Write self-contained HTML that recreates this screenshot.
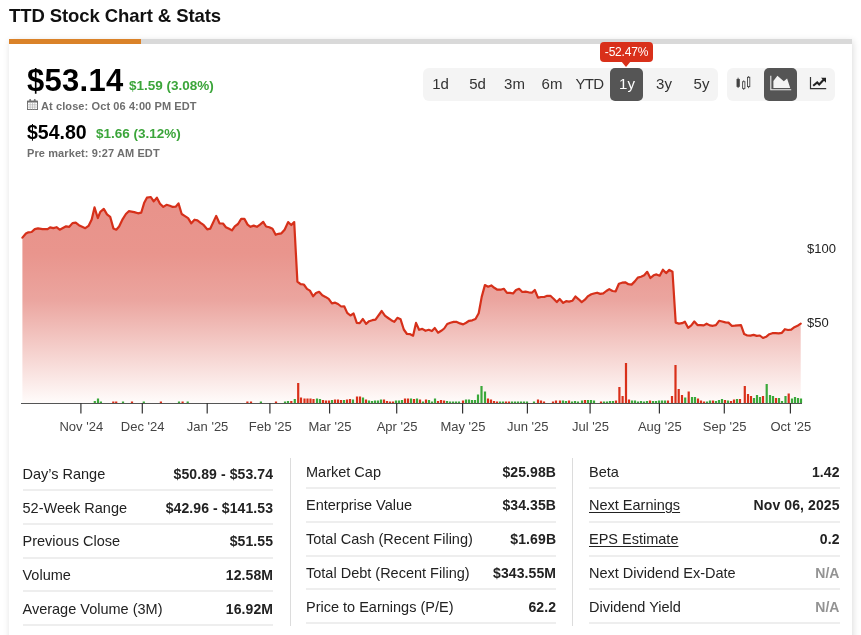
<!DOCTYPE html>
<html lang="en">
<head>
<meta charset="utf-8">
<title>TTD Stock Chart &amp; Stats</title>
<style>
*{box-sizing:border-box;margin:0;padding:0}
html,body{width:861px;height:635px;overflow:hidden;background:#fff}
body{font-family:"Liberation Sans",sans-serif;color:#222;position:relative}
.abs{position:absolute;white-space:nowrap}
h1{position:absolute;left:9px;top:5px;font-size:18.5px;line-height:22px;font-weight:700;color:#111;letter-spacing:-0.08px;white-space:nowrap}
.card{position:absolute;left:9px;top:39px;width:843px;height:620px;background:#fff;box-shadow:1px 2px 7px rgba(0,0,0,.14)}
.bar{position:absolute;left:0;top:0;width:843px;height:5px;background:#d9d9d9}
.bar i{position:absolute;left:0;top:0;width:132px;height:5px;background:#da8229}
.p1{left:27px;top:62.5px;font-size:31px;line-height:36px;font-weight:700;color:#000;letter-spacing:0.3px}
.g1{left:129px;top:78px;font-size:13.5px;line-height:16px;font-weight:700;color:#3ba53a;letter-spacing:0}
.s1{left:41px;top:99.5px;font-size:11px;line-height:13px;font-weight:700;color:#6e6e6e;letter-spacing:0.1px}
.p2{left:27px;top:119.5px;font-size:19.5px;line-height:24px;font-weight:700;color:#000;letter-spacing:0}
.g2{left:96px;top:126px;font-size:13.5px;line-height:16px;font-weight:700;color:#3ba53a;letter-spacing:0}
.s2{left:27px;top:146.5px;font-size:11px;line-height:13px;font-weight:700;color:#6e6e6e;letter-spacing:0.1px}
.grp{position:absolute;top:68px;height:33px;background:#f4f4f4;border-radius:6px}
.btn{position:absolute;top:68px;height:33px;line-height:31px;text-align:center;font-size:15px;color:#333;white-space:nowrap}
.act{position:absolute;top:68px;height:33px;background:#555;border-radius:5px}
.tip{position:absolute;left:600px;top:42px;width:53px;height:20px;background:#d9301a;border-radius:4px;color:#fff;font-size:12px;line-height:20px;text-align:center;letter-spacing:-0.2px}
.tip:after{content:"";position:absolute;left:21px;top:19px;border:5px solid transparent;border-top:6px solid #d9301a;border-bottom:0}
.col{position:absolute;width:251px}
.lb{position:absolute;left:0;white-space:nowrap;font-size:14.5px;line-height:18px;color:#222}
.vl{position:absolute;right:0;white-space:nowrap;font-size:14px;line-height:18px;font-weight:700;color:#222;letter-spacing:0.1px;margin-right:-0.1px}
.vl.na{color:#939393}
.ln{position:absolute;left:0;width:100%;height:2px;background:#eee}
.col u{text-decoration:underline;text-underline-offset:1.5px}
.vd{position:absolute;width:1px;top:458px;height:168px;background:#dcdcdc}
</style>
</head>
<body>
<div class="card"><div class="bar"><i></i></div></div>
<h1>TTD Stock Chart &amp; Stats</h1>

<div class="abs p1">$53.14</div>
<div class="abs g1">$1.59 (3.08%)</div>
<svg class="abs" style="left:27px;top:99px" width="11" height="11" viewBox="0 0 11 11"><rect x="0.5" y="2.2" width="10" height="8.3" fill="none" stroke="#707070" stroke-width="1"/><rect x="0.5" y="1.8" width="10" height="1.7" fill="#6a6a6a"/><rect x="2.2" y="0.1" width="1.9" height="2.4" rx="0.8" fill="#777"/><rect x="6.8" y="0.1" width="1.9" height="2.4" rx="0.8" fill="#777"/><path d="M3.2 3.5v7M5.5 3.5v7M7.8 3.5v7M0.5 5.8h10M0.5 8.1h10" stroke="#b5b5b5" stroke-width="0.7" fill="none"/></svg>
<div class="abs s1">At close: Oct 06 4:00 PM EDT</div>
<div class="abs p2">$54.80</div>
<div class="abs g2">$1.66 (3.12%)</div>
<div class="abs s2">Pre market: 9:27 AM EDT</div>

<div class="grp" style="left:423px;width:295px"></div>
<div class="grp" style="left:727px;width:108px"></div>
<div class="act" style="left:610px;width:32.5px"></div>
<div class="act" style="left:764px;width:33px"></div>
<div class="btn" style="left:422px;width:37px">1d</div>
<div class="btn" style="left:459px;width:37px">5d</div>
<div class="btn" style="left:496px;width:37px">3m</div>
<div class="btn" style="left:533.5px;width:37px">6m</div>
<div class="btn" style="left:571px;width:37px;letter-spacing:-0.6px">YTD</div>
<div class="btn" style="left:608.5px;width:37px;color:#fff">1y</div>
<div class="btn" style="left:645.5px;width:37px">3y</div>
<div class="btn" style="left:683px;width:37px">5y</div>
<div class="tip">-52.47%</div>
<svg class="abs" style="left:727px;top:68px" width="108" height="33" viewBox="727 68 108 33">
<g stroke="#444" stroke-width="0.9" fill="none">
<path d="M738.1 77.7V88" /><rect x="737" y="79.4" width="2.3" height="7" fill="#444"/>
<path d="M743.7 80.4V81.7M743.7 88.4V89.9"/><rect x="742.6" y="81.7" width="2.3" height="6.7" fill="#f4f4f4"/>
<path d="M748.6 76.1V77.3M748.6 86.6V88.2"/><rect x="747.5" y="77.3" width="2.3" height="9.3" fill="#f4f4f4"/>
</g>
<path d="M770.8 75.7V89.7H791.2" stroke="#f0f0f0" stroke-width="1.1" fill="none"/>
<path d="M773.4 88V81L777.4 75.7L783.8 81.3L787.1 78.6L790.2 88Z" fill="#f4f4f4"/>
<path d="M810.5 77V88.6H826.2" stroke="#333" stroke-width="1.2" fill="none"/>
<path d="M813.2 85.7L817.2 82.4L819.2 84.4L823.6 79.8" stroke="#222" stroke-width="2.1" fill="none" stroke-linejoin="miter"/>
<path d="M821 77.8H826V82.8Z" fill="#222"/>
</svg>

<!--CS--><svg class="abs" style="left:0;top:170px" width="861" height="280" viewBox="0 170 861 280">
<defs><linearGradient id="ag" gradientUnits="userSpaceOnUse" x1="0" y1="190" x2="0" y2="403"><stop offset="0" stop-color="#e8928a"/><stop offset="0.3" stop-color="#e9958d"/><stop offset="0.516" stop-color="#eba59f"/><stop offset="1" stop-color="#fffcfb"/></linearGradient></defs>
<path d="M22.4 237.6 L25.9 233.5 L28.4 232.3 L31.6 232.0 L34.8 229.1 L38.0 228.4 L42.5 229.1 L47.6 229.1 L50.1 227.4 L53.3 228.1 L56.5 227.2 L59.7 229.7 L66.1 226.3 L69.3 226.8 L72.5 223.1 L75.7 222.7 L78.9 225.2 L85.3 228.2 L88.5 225.9 L91.7 219.5 L94.5 207.4 L97.8 218.0 L100.3 211.8 L103.8 208.9 L107.0 214.4 L110.2 216.9 L113.4 228.4 L116.3 229.7 L119.1 226.5 L122.7 219.1 L125.9 214.0 L128.8 211.2 L134.2 212.1 L138.0 213.3 L141.2 212.7 L144.1 203.1 L146.9 197.7 L150.8 197.0 L153.7 201.4 L156.9 197.7 L160.0 203.7 L163.3 206.9 L166.5 204.8 L169.9 205.7 L172.7 206.9 L175.7 206.7 L178.5 203.4 L181.7 214.0 L184.6 215.9 L188.1 218.1 L191.3 223.3 L194.5 219.7 L197.4 220.4 L200.6 222.9 L203.8 225.2 L207.2 229.3 L210.2 228.7 L216.2 215.9 L219.5 223.3 L223.0 223.5 L225.9 227.2 L229.1 228.8 L232.0 230.4 L234.8 226.3 L238.0 224.0 L241.2 218.9 L244.4 218.9 L247.6 224.6 L250.5 226.8 L253.7 225.6 L256.9 226.8 L260.0 224.6 L263.2 221.8 L266.1 226.5 L269.3 227.2 L272.5 228.8 L275.7 234.8 L278.5 233.8 L281.4 233.3 L284.6 229.7 L288.1 222.1 L291.3 225.0 L294.2 222.1 L297.4 281.6 L300.6 284.2 L303.8 284.5 L307.0 288.9 L309.9 290.6 L313.1 296.3 L316.0 293.1 L319.1 291.8 L322.3 295.3 L325.5 296.9 L328.7 298.9 L331.9 303.3 L335.2 302.7 L338.0 304.0 L341.2 306.5 L344.2 306.3 L347.2 312.9 L350.4 315.5 L353.6 313.5 L356.8 322.9 L359.7 323.1 L362.9 319.0 L366.1 323.8 L369.1 321.2 L372.3 320.2 L375.5 319.7 L381.7 311.0 L384.9 315.7 L388.1 318.0 L391.3 320.2 L394.3 321.9 L397.4 317.8 L400.6 319.3 L403.8 329.5 L407.0 334.0 L410.2 334.2 L413.1 335.7 L416.0 322.9 L419.1 329.8 L422.3 328.9 L425.5 330.8 L428.7 329.8 L431.9 331.1 L434.8 328.0 L438.0 332.7 L441.2 330.8 L444.2 328.5 L447.2 324.0 L450.4 322.7 L453.6 321.9 L456.8 321.9 L460.0 323.4 L463.2 324.4 L466.1 322.7 L469.1 320.8 L472.3 320.3 L475.5 319.0 L478.7 313.3 L481.7 296.9 L484.9 285.1 L488.1 286.7 L491.3 285.4 L494.3 287.8 L497.4 289.7 L500.6 289.7 L503.8 288.8 L507.0 292.9 L510.2 292.9 L513.1 293.5 L516.0 290.0 L519.1 288.8 L522.3 292.0 L525.5 291.6 L528.7 292.3 L531.9 292.7 L534.8 290.0 L538.0 297.6 L541.2 297.0 L544.2 297.0 L547.2 295.8 L550.4 295.8 L553.6 298.7 L556.8 302.1 L559.7 299.0 L563.2 302.9 L566.1 301.2 L569.1 301.6 L572.3 300.8 L575.5 296.5 L578.7 299.3 L581.7 302.1 L584.9 299.7 L588.1 296.1 L591.3 294.2 L593.9 293.5 L597.1 292.7 L600.3 293.9 L603.3 293.3 L606.3 291.0 L609.3 289.1 L612.5 291.0 L615.7 291.3 L618.9 283.7 L622.1 282.7 L625.2 282.3 L628.4 284.2 L631.6 284.6 L634.8 281.4 L637.8 277.6 L641.0 276.7 L644.2 275.3 L647.2 271.8 L650.4 278.0 L653.6 275.3 L656.5 274.4 L659.7 275.7 L662.9 269.7 L666.1 273.1 L669.3 269.9 L672.5 271.8 L675.7 322.6 L678.9 323.6 L682.1 323.2 L684.9 321.7 L688.1 327.8 L691.3 325.4 L694.3 321.5 L697.5 325.1 L700.6 325.1 L703.8 325.4 L706.6 323.7 L709.8 325.4 L712.9 325.8 L715.9 325.1 L719.1 320.8 L722.2 321.5 L725.4 322.4 L728.5 322.6 L731.7 325.8 L734.8 325.7 L738.0 325.4 L741.0 325.1 L744.2 334.1 L747.3 335.5 L750.5 335.6 L753.6 334.9 L756.8 335.9 L759.8 335.5 L763.0 338.0 L766.1 336.8 L769.3 334.2 L772.4 333.2 L775.6 333.2 L778.7 333.4 L781.9 332.8 L784.9 329.2 L788.1 330.0 L791.2 329.6 L794.4 327.2 L797.5 325.8 L800.7 323.7 L800.7 403 L22.4 403 Z" fill="url(#ag)"/>
<path d="M22.4 237.6 L25.9 233.5 L28.4 232.3 L31.6 232.0 L34.8 229.1 L38.0 228.4 L42.5 229.1 L47.6 229.1 L50.1 227.4 L53.3 228.1 L56.5 227.2 L59.7 229.7 L66.1 226.3 L69.3 226.8 L72.5 223.1 L75.7 222.7 L78.9 225.2 L85.3 228.2 L88.5 225.9 L91.7 219.5 L94.5 207.4 L97.8 218.0 L100.3 211.8 L103.8 208.9 L107.0 214.4 L110.2 216.9 L113.4 228.4 L116.3 229.7 L119.1 226.5 L122.7 219.1 L125.9 214.0 L128.8 211.2 L134.2 212.1 L138.0 213.3 L141.2 212.7 L144.1 203.1 L146.9 197.7 L150.8 197.0 L153.7 201.4 L156.9 197.7 L160.0 203.7 L163.3 206.9 L166.5 204.8 L169.9 205.7 L172.7 206.9 L175.7 206.7 L178.5 203.4 L181.7 214.0 L184.6 215.9 L188.1 218.1 L191.3 223.3 L194.5 219.7 L197.4 220.4 L200.6 222.9 L203.8 225.2 L207.2 229.3 L210.2 228.7 L216.2 215.9 L219.5 223.3 L223.0 223.5 L225.9 227.2 L229.1 228.8 L232.0 230.4 L234.8 226.3 L238.0 224.0 L241.2 218.9 L244.4 218.9 L247.6 224.6 L250.5 226.8 L253.7 225.6 L256.9 226.8 L260.0 224.6 L263.2 221.8 L266.1 226.5 L269.3 227.2 L272.5 228.8 L275.7 234.8 L278.5 233.8 L281.4 233.3 L284.6 229.7 L288.1 222.1 L291.3 225.0 L294.2 222.1 L297.4 281.6 L300.6 284.2 L303.8 284.5 L307.0 288.9 L309.9 290.6 L313.1 296.3 L316.0 293.1 L319.1 291.8 L322.3 295.3 L325.5 296.9 L328.7 298.9 L331.9 303.3 L335.2 302.7 L338.0 304.0 L341.2 306.5 L344.2 306.3 L347.2 312.9 L350.4 315.5 L353.6 313.5 L356.8 322.9 L359.7 323.1 L362.9 319.0 L366.1 323.8 L369.1 321.2 L372.3 320.2 L375.5 319.7 L381.7 311.0 L384.9 315.7 L388.1 318.0 L391.3 320.2 L394.3 321.9 L397.4 317.8 L400.6 319.3 L403.8 329.5 L407.0 334.0 L410.2 334.2 L413.1 335.7 L416.0 322.9 L419.1 329.8 L422.3 328.9 L425.5 330.8 L428.7 329.8 L431.9 331.1 L434.8 328.0 L438.0 332.7 L441.2 330.8 L444.2 328.5 L447.2 324.0 L450.4 322.7 L453.6 321.9 L456.8 321.9 L460.0 323.4 L463.2 324.4 L466.1 322.7 L469.1 320.8 L472.3 320.3 L475.5 319.0 L478.7 313.3 L481.7 296.9 L484.9 285.1 L488.1 286.7 L491.3 285.4 L494.3 287.8 L497.4 289.7 L500.6 289.7 L503.8 288.8 L507.0 292.9 L510.2 292.9 L513.1 293.5 L516.0 290.0 L519.1 288.8 L522.3 292.0 L525.5 291.6 L528.7 292.3 L531.9 292.7 L534.8 290.0 L538.0 297.6 L541.2 297.0 L544.2 297.0 L547.2 295.8 L550.4 295.8 L553.6 298.7 L556.8 302.1 L559.7 299.0 L563.2 302.9 L566.1 301.2 L569.1 301.6 L572.3 300.8 L575.5 296.5 L578.7 299.3 L581.7 302.1 L584.9 299.7 L588.1 296.1 L591.3 294.2 L593.9 293.5 L597.1 292.7 L600.3 293.9 L603.3 293.3 L606.3 291.0 L609.3 289.1 L612.5 291.0 L615.7 291.3 L618.9 283.7 L622.1 282.7 L625.2 282.3 L628.4 284.2 L631.6 284.6 L634.8 281.4 L637.8 277.6 L641.0 276.7 L644.2 275.3 L647.2 271.8 L650.4 278.0 L653.6 275.3 L656.5 274.4 L659.7 275.7 L662.9 269.7 L666.1 273.1 L669.3 269.9 L672.5 271.8 L675.7 322.6 L678.9 323.6 L682.1 323.2 L684.9 321.7 L688.1 327.8 L691.3 325.4 L694.3 321.5 L697.5 325.1 L700.6 325.1 L703.8 325.4 L706.6 323.7 L709.8 325.4 L712.9 325.8 L715.9 325.1 L719.1 320.8 L722.2 321.5 L725.4 322.4 L728.5 322.6 L731.7 325.8 L734.8 325.7 L738.0 325.4 L741.0 325.1 L744.2 334.1 L747.3 335.5 L750.5 335.6 L753.6 334.9 L756.8 335.9 L759.8 335.5 L763.0 338.0 L766.1 336.8 L769.3 334.2 L772.4 333.2 L775.6 333.2 L778.7 333.4 L781.9 332.8 L784.9 329.2 L788.1 330.0 L791.2 329.6 L794.4 327.2 L797.5 325.8 L800.7 323.7" fill="none" stroke="#d6301a" stroke-width="2.2" stroke-linejoin="round" stroke-linecap="round"/>
<rect x="93.7" y="401.0" width="2.2" height="2.0" fill="#3aa83a"/><rect x="96.9" y="398.5" width="2.2" height="4.5" fill="#3aa83a"/><rect x="99.8" y="401.5" width="2.2" height="1.5" fill="#3aa83a"/><rect x="112.2" y="401.5" width="2.2" height="1.5" fill="#d9301a"/><rect x="115.1" y="401.5" width="2.2" height="1.5" fill="#d9301a"/><rect x="121.9" y="401.5" width="2.2" height="1.5" fill="#3aa83a"/><rect x="130.9" y="401.5" width="2.2" height="1.5" fill="#d9301a"/><rect x="142.7" y="401.5" width="2.2" height="1.5" fill="#3aa83a"/><rect x="159.8" y="401.5" width="2.2" height="1.5" fill="#d9301a"/><rect x="177.9" y="401.5" width="2.2" height="1.5" fill="#3aa83a"/><rect x="181.5" y="401.5" width="2.2" height="1.5" fill="#d9301a"/><rect x="186.6" y="401.5" width="2.2" height="1.5" fill="#3aa83a"/><rect x="246.3" y="401.5" width="2.2" height="1.5" fill="#d9301a"/><rect x="249.9" y="401.5" width="2.2" height="1.5" fill="#d9301a"/><rect x="259.8" y="401.5" width="2.2" height="1.5" fill="#3aa83a"/><rect x="274.9" y="401.5" width="2.2" height="1.5" fill="#d9301a"/><rect x="283.9" y="401.5" width="2.2" height="1.5" fill="#3aa83a"/><rect x="286.9" y="401.0" width="2.2" height="2.0" fill="#3aa83a"/><rect x="290.2" y="401.0" width="2.2" height="2.0" fill="#d9301a"/><rect x="293.7" y="399.0" width="2.2" height="4.0" fill="#3aa83a"/><rect x="297.1" y="383.0" width="2.2" height="20.0" fill="#d9301a"/><rect x="299.9" y="397.5" width="2.2" height="5.5" fill="#d9301a"/><rect x="303.4" y="398.5" width="2.2" height="4.5" fill="#d9301a"/><rect x="306.4" y="398.5" width="2.2" height="4.5" fill="#d9301a"/><rect x="309.4" y="398.5" width="2.2" height="4.5" fill="#d9301a"/><rect x="312.4" y="399.0" width="2.2" height="4.0" fill="#d9301a"/><rect x="315.9" y="398.5" width="2.2" height="4.5" fill="#3aa83a"/><rect x="318.9" y="399.0" width="2.2" height="4.0" fill="#3aa83a"/><rect x="321.9" y="400.0" width="2.2" height="3.0" fill="#d9301a"/><rect x="324.9" y="400.5" width="2.2" height="2.5" fill="#d9301a"/><rect x="327.9" y="400.5" width="2.2" height="2.5" fill="#d9301a"/><rect x="330.9" y="400.0" width="2.2" height="3.0" fill="#3aa83a"/><rect x="333.9" y="399.5" width="2.2" height="3.5" fill="#d9301a"/><rect x="336.9" y="399.5" width="2.2" height="3.5" fill="#d9301a"/><rect x="339.9" y="400.0" width="2.2" height="3.0" fill="#d9301a"/><rect x="342.9" y="400.0" width="2.2" height="3.0" fill="#3aa83a"/><rect x="345.9" y="399.5" width="2.2" height="3.5" fill="#d9301a"/><rect x="348.9" y="399.0" width="2.2" height="4.0" fill="#d9301a"/><rect x="351.9" y="399.5" width="2.2" height="3.5" fill="#3aa83a"/><rect x="355.9" y="396.5" width="2.2" height="6.5" fill="#d9301a"/><rect x="358.9" y="396.5" width="2.2" height="6.5" fill="#d9301a"/><rect x="361.9" y="397.5" width="2.2" height="5.5" fill="#3aa83a"/><rect x="364.9" y="399.5" width="2.2" height="3.5" fill="#d9301a"/><rect x="367.9" y="400.5" width="2.2" height="2.5" fill="#3aa83a"/><rect x="370.9" y="401.0" width="2.2" height="2.0" fill="#3aa83a"/><rect x="373.9" y="400.5" width="2.2" height="2.5" fill="#3aa83a"/><rect x="376.9" y="400.5" width="2.2" height="2.5" fill="#3aa83a"/><rect x="379.9" y="399.5" width="2.2" height="3.5" fill="#3aa83a"/><rect x="382.9" y="399.5" width="2.2" height="3.5" fill="#d9301a"/><rect x="385.9" y="401.0" width="2.2" height="2.0" fill="#d9301a"/><rect x="388.9" y="401.5" width="2.2" height="1.5" fill="#d9301a"/><rect x="391.9" y="401.5" width="2.2" height="1.5" fill="#d9301a"/><rect x="394.9" y="400.5" width="2.2" height="2.5" fill="#3aa83a"/><rect x="397.9" y="400.5" width="2.2" height="2.5" fill="#3aa83a"/><rect x="400.9" y="400.0" width="2.2" height="3.0" fill="#3aa83a"/><rect x="403.9" y="398.5" width="2.2" height="4.5" fill="#d9301a"/><rect x="406.9" y="398.5" width="2.2" height="4.5" fill="#d9301a"/><rect x="409.9" y="398.5" width="2.2" height="4.5" fill="#3aa83a"/><rect x="412.9" y="399.0" width="2.2" height="4.0" fill="#d9301a"/><rect x="415.9" y="398.5" width="2.2" height="4.5" fill="#3aa83a"/><rect x="418.9" y="399.5" width="2.2" height="3.5" fill="#d9301a"/><rect x="421.9" y="401.5" width="2.2" height="1.5" fill="#3aa83a"/><rect x="424.9" y="399.5" width="2.2" height="3.5" fill="#d9301a"/><rect x="427.9" y="400.0" width="2.2" height="3.0" fill="#3aa83a"/><rect x="430.9" y="401.5" width="2.2" height="1.5" fill="#3aa83a"/><rect x="433.9" y="398.5" width="2.2" height="4.5" fill="#3aa83a"/><rect x="436.9" y="401.0" width="2.2" height="2.0" fill="#d9301a"/><rect x="439.9" y="400.0" width="2.2" height="3.0" fill="#d9301a"/><rect x="442.9" y="400.5" width="2.2" height="2.5" fill="#d9301a"/><rect x="445.9" y="401.0" width="2.2" height="2.0" fill="#3aa83a"/><rect x="448.9" y="401.5" width="2.2" height="1.5" fill="#3aa83a"/><rect x="451.9" y="401.5" width="2.2" height="1.5" fill="#3aa83a"/><rect x="454.9" y="401.5" width="2.2" height="1.5" fill="#3aa83a"/><rect x="457.9" y="401.5" width="2.2" height="1.5" fill="#3aa83a"/><rect x="461.9" y="400.5" width="2.2" height="2.5" fill="#d9301a"/><rect x="464.9" y="399.5" width="2.2" height="3.5" fill="#3aa83a"/><rect x="467.9" y="399.5" width="2.2" height="3.5" fill="#3aa83a"/><rect x="470.9" y="400.0" width="2.2" height="3.0" fill="#3aa83a"/><rect x="473.9" y="400.0" width="2.2" height="3.0" fill="#3aa83a"/><rect x="476.9" y="394.5" width="2.2" height="8.5" fill="#3aa83a"/><rect x="480.4" y="386.0" width="2.2" height="17.0" fill="#3aa83a"/><rect x="483.9" y="391.5" width="2.2" height="11.5" fill="#3aa83a"/><rect x="486.9" y="398.5" width="2.2" height="4.5" fill="#d9301a"/><rect x="489.9" y="399.5" width="2.2" height="3.5" fill="#d9301a"/><rect x="492.9" y="401.0" width="2.2" height="2.0" fill="#d9301a"/><rect x="495.9" y="401.5" width="2.2" height="1.5" fill="#d9301a"/><rect x="498.9" y="401.5" width="2.2" height="1.5" fill="#3aa83a"/><rect x="501.9" y="401.5" width="2.2" height="1.5" fill="#3aa83a"/><rect x="504.9" y="401.5" width="2.2" height="1.5" fill="#d9301a"/><rect x="507.9" y="401.5" width="2.2" height="1.5" fill="#d9301a"/><rect x="510.9" y="401.5" width="2.2" height="1.5" fill="#3aa83a"/><rect x="513.9" y="401.5" width="2.2" height="1.5" fill="#3aa83a"/><rect x="516.9" y="401.5" width="2.2" height="1.5" fill="#3aa83a"/><rect x="519.9" y="401.5" width="2.2" height="1.5" fill="#3aa83a"/><rect x="522.9" y="401.5" width="2.2" height="1.5" fill="#3aa83a"/><rect x="525.9" y="401.5" width="2.2" height="1.5" fill="#3aa83a"/><rect x="532.9" y="401.5" width="2.2" height="1.5" fill="#3aa83a"/><rect x="536.9" y="399.5" width="2.2" height="3.5" fill="#d9301a"/><rect x="539.9" y="400.5" width="2.2" height="2.5" fill="#d9301a"/><rect x="542.9" y="401.5" width="2.2" height="1.5" fill="#d9301a"/><rect x="551.9" y="401.5" width="2.2" height="1.5" fill="#d9301a"/><rect x="554.9" y="400.5" width="2.2" height="2.5" fill="#d9301a"/><rect x="558.9" y="400.5" width="2.2" height="2.5" fill="#d9301a"/><rect x="561.9" y="400.5" width="2.2" height="2.5" fill="#3aa83a"/><rect x="564.9" y="401.0" width="2.2" height="2.0" fill="#3aa83a"/><rect x="567.9" y="400.5" width="2.2" height="2.5" fill="#d9301a"/><rect x="570.9" y="401.5" width="2.2" height="1.5" fill="#3aa83a"/><rect x="573.9" y="401.0" width="2.2" height="2.0" fill="#3aa83a"/><rect x="576.9" y="401.5" width="2.2" height="1.5" fill="#3aa83a"/><rect x="580.9" y="400.5" width="2.2" height="2.5" fill="#3aa83a"/><rect x="583.9" y="400.0" width="2.2" height="3.0" fill="#d9301a"/><rect x="586.9" y="400.0" width="2.2" height="3.0" fill="#3aa83a"/><rect x="589.9" y="400.0" width="2.2" height="3.0" fill="#3aa83a"/><rect x="592.9" y="400.5" width="2.2" height="2.5" fill="#3aa83a"/><rect x="599.9" y="401.5" width="2.2" height="1.5" fill="#d9301a"/><rect x="602.9" y="401.5" width="2.2" height="1.5" fill="#3aa83a"/><rect x="605.9" y="401.5" width="2.2" height="1.5" fill="#3aa83a"/><rect x="608.9" y="401.0" width="2.2" height="2.0" fill="#3aa83a"/><rect x="611.9" y="401.0" width="2.2" height="2.0" fill="#3aa83a"/><rect x="614.9" y="400.5" width="2.2" height="2.5" fill="#d9301a"/><rect x="618.3" y="387.0" width="2.2" height="16.0" fill="#d9301a"/><rect x="621.5" y="396.0" width="2.2" height="7.0" fill="#d9301a"/><rect x="624.9" y="363.0" width="2.2" height="40.0" fill="#d9301a"/><rect x="627.9" y="399.5" width="2.2" height="3.5" fill="#d9301a"/><rect x="630.9" y="400.5" width="2.2" height="2.5" fill="#3aa83a"/><rect x="633.9" y="400.5" width="2.2" height="2.5" fill="#3aa83a"/><rect x="636.9" y="401.5" width="2.2" height="1.5" fill="#3aa83a"/><rect x="639.9" y="401.0" width="2.2" height="2.0" fill="#3aa83a"/><rect x="642.9" y="401.5" width="2.2" height="1.5" fill="#3aa83a"/><rect x="645.9" y="401.0" width="2.2" height="2.0" fill="#3aa83a"/><rect x="648.9" y="400.5" width="2.2" height="2.5" fill="#d9301a"/><rect x="651.9" y="401.0" width="2.2" height="2.0" fill="#3aa83a"/><rect x="654.9" y="401.0" width="2.2" height="2.0" fill="#3aa83a"/><rect x="657.9" y="400.5" width="2.2" height="2.5" fill="#3aa83a"/><rect x="660.9" y="400.5" width="2.2" height="2.5" fill="#3aa83a"/><rect x="663.9" y="400.5" width="2.2" height="2.5" fill="#3aa83a"/><rect x="666.9" y="400.5" width="2.2" height="2.5" fill="#d9301a"/><rect x="670.9" y="396.0" width="2.2" height="7.0" fill="#d9301a"/><rect x="674.4" y="365.0" width="2.2" height="38.0" fill="#d9301a"/><rect x="677.6" y="389.0" width="2.2" height="14.0" fill="#d9301a"/><rect x="680.9" y="395.0" width="2.2" height="8.0" fill="#d9301a"/><rect x="684.1" y="397.5" width="2.2" height="5.5" fill="#3aa83a"/><rect x="687.6" y="391.5" width="2.2" height="11.5" fill="#d9301a"/><rect x="690.9" y="397.0" width="2.2" height="6.0" fill="#3aa83a"/><rect x="693.9" y="397.0" width="2.2" height="6.0" fill="#3aa83a"/><rect x="696.9" y="398.5" width="2.2" height="4.5" fill="#d9301a"/><rect x="699.9" y="400.5" width="2.2" height="2.5" fill="#d9301a"/><rect x="702.9" y="401.5" width="2.2" height="1.5" fill="#d9301a"/><rect x="705.9" y="401.5" width="2.2" height="1.5" fill="#3aa83a"/><rect x="708.9" y="400.5" width="2.2" height="2.5" fill="#3aa83a"/><rect x="711.9" y="400.5" width="2.2" height="2.5" fill="#d9301a"/><rect x="714.9" y="401.0" width="2.2" height="2.0" fill="#3aa83a"/><rect x="717.9" y="400.0" width="2.2" height="3.0" fill="#3aa83a"/><rect x="720.9" y="399.0" width="2.2" height="4.0" fill="#3aa83a"/><rect x="723.9" y="400.0" width="2.2" height="3.0" fill="#d9301a"/><rect x="726.9" y="400.5" width="2.2" height="2.5" fill="#3aa83a"/><rect x="729.9" y="401.0" width="2.2" height="2.0" fill="#d9301a"/><rect x="732.9" y="399.5" width="2.2" height="3.5" fill="#d9301a"/><rect x="735.9" y="399.0" width="2.2" height="4.0" fill="#3aa83a"/><rect x="738.9" y="399.0" width="2.2" height="4.0" fill="#d9301a"/><rect x="743.7" y="386.0" width="2.2" height="17.0" fill="#d9301a"/><rect x="746.9" y="394.0" width="2.2" height="9.0" fill="#d9301a"/><rect x="749.9" y="396.0" width="2.2" height="7.0" fill="#d9301a"/><rect x="752.9" y="398.0" width="2.2" height="5.0" fill="#3aa83a"/><rect x="755.9" y="395.0" width="2.2" height="8.0" fill="#3aa83a"/><rect x="758.9" y="397.0" width="2.2" height="6.0" fill="#3aa83a"/><rect x="761.9" y="396.0" width="2.2" height="7.0" fill="#d9301a"/><rect x="765.6" y="384.0" width="2.2" height="19.0" fill="#3aa83a"/><rect x="768.9" y="395.0" width="2.2" height="8.0" fill="#3aa83a"/><rect x="771.9" y="396.0" width="2.2" height="7.0" fill="#3aa83a"/><rect x="774.9" y="398.0" width="2.2" height="5.0" fill="#d9301a"/><rect x="777.9" y="398.0" width="2.2" height="5.0" fill="#3aa83a"/><rect x="780.9" y="401.0" width="2.2" height="2.0" fill="#3aa83a"/><rect x="784.4" y="396.0" width="2.2" height="7.0" fill="#3aa83a"/><rect x="787.6" y="393.5" width="2.2" height="9.5" fill="#d9301a"/><rect x="790.9" y="398.5" width="2.2" height="4.5" fill="#3aa83a"/><rect x="793.9" y="397.0" width="2.2" height="6.0" fill="#3aa83a"/><rect x="796.9" y="398.0" width="2.2" height="5.0" fill="#3aa83a"/><rect x="799.9" y="398.5" width="2.2" height="4.5" fill="#3aa83a"/>
<path d="M21 403.5H802" stroke="#555" stroke-width="1" fill="none"/>
<path d="M80.9 403v10.4M142.3 403v10.4M207.2 403v10.4M269.9 403v10.4M329.6 403v10.4M396.7 403v10.4M462.6 403v10.4M527.4 403v10.4M590.1 403v10.4M659.4 403v10.4M724.3 403v10.4M790.4 403v10.4" stroke="#333" stroke-width="1.2" fill="none"/>
<g font-family="Liberation Sans, sans-serif" font-size="13" fill="#444" text-anchor="middle"><text x="81.3" y="431">Nov '24</text><text x="142.7" y="431">Dec '24</text><text x="207.6" y="431">Jan '25</text><text x="270.3" y="431">Feb '25</text><text x="330.0" y="431">Mar '25</text><text x="397.1" y="431">Apr '25</text><text x="463.0" y="431">May '25</text><text x="527.8" y="431">Jun '25</text><text x="590.5" y="431">Jul '25</text><text x="659.8" y="431">Aug '25</text><text x="724.7" y="431">Sep '25</text><text x="790.8" y="431">Oct '25</text></g>
<g font-family="Liberation Sans, sans-serif" font-size="13" fill="#222"><text x="807" y="253">$100</text><text x="807" y="327">$50</text></g>
</svg><!--CE-->

<div class="col" style="left:22.5px;top:0;width:250.5px">
<span class="lb" style="top:465px">Day’s Range</span><b class="vl" style="top:465px">$50.89 - $53.74</b><i class="ln" style="top:489px"></i>
<span class="lb" style="top:499px">52-Week Range</span><b class="vl" style="top:499px">$42.96 - $141.53</b><i class="ln" style="top:523px"></i>
<span class="lb" style="top:532px">Previous Close</span><b class="vl" style="top:532px">$51.55</b><i class="ln" style="top:557px"></i>
<span class="lb" style="top:566px">Volume</span><b class="vl" style="top:566px">12.58M</b><i class="ln" style="top:590px"></i>
<span class="lb" style="top:600px">Average Volume (3M)</span><b class="vl" style="top:600px">16.92M</b><i class="ln" style="top:624px"></i>
</div>
<div class="col" style="left:306px;top:0;width:250px">
<span class="lb" style="top:463px">Market Cap</span><b class="vl" style="top:463px">$25.98B</b><i class="ln" style="top:487px"></i>
<span class="lb" style="top:496px">Enterprise Value</span><b class="vl" style="top:496px">$34.35B</b><i class="ln" style="top:521px"></i>
<span class="lb" style="top:530px">Total Cash (Recent Filing)</span><b class="vl" style="top:530px">$1.69B</b><i class="ln" style="top:555px"></i>
<span class="lb" style="top:564px">Total Debt (Recent Filing)</span><b class="vl" style="top:564px">$343.55M</b><i class="ln" style="top:588px"></i>
<span class="lb" style="top:598px">Price to Earnings (P/E)</span><b class="vl" style="top:598px">62.2</b><i class="ln" style="top:622px"></i>
</div>
<div class="col" style="left:589px;top:0;width:250.5px">
<span class="lb" style="top:463px">Beta</span><b class="vl" style="top:463px">1.42</b><i class="ln" style="top:487px"></i>
<span class="lb" style="top:496px"><u>Next Earnings</u></span><b class="vl" style="top:496px">Nov 06, 2025</b><i class="ln" style="top:521px"></i>
<span class="lb" style="top:530px"><u>EPS Estimate</u></span><b class="vl" style="top:530px">0.2</b><i class="ln" style="top:555px"></i>
<span class="lb" style="top:564px">Next Dividend Ex-Date</span><b class="vl na" style="top:564px">N/A</b><i class="ln" style="top:588px"></i>
<span class="lb" style="top:598px">Dividend Yield</span><b class="vl na" style="top:598px">N/A</b><i class="ln" style="top:622px"></i>
</div>
<div class="vd" style="left:289.5px"></div>
<div class="vd" style="left:572px"></div>
</body>
</html>
